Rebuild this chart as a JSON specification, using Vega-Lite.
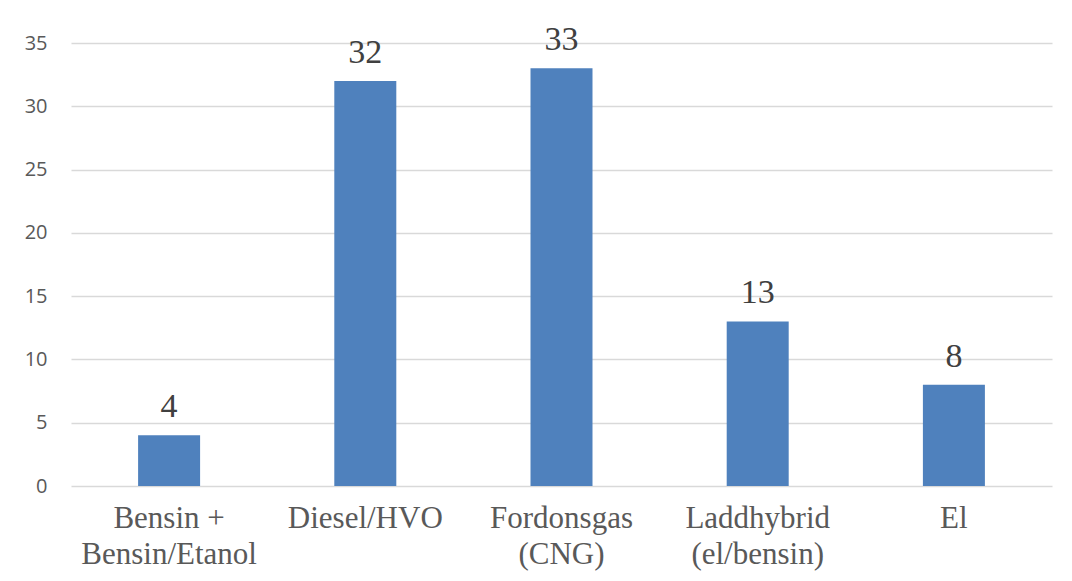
{
  "$schema": "https://vega.github.io/schema/vega-lite/v6.json",
  "width": 981,
  "height": 443,
  "autosize": {"type": "none"},
  "padding": {"left": 71, "top": 43, "right": 20, "bottom": 95},
  "background": "white",
  "data": {
    "values": [
      {"kategori": "Bensin +|Bensin/Etanol", "antal": 4},
      {"kategori": "Diesel/HVO", "antal": 32},
      {"kategori": "Fordonsgas|(CNG)", "antal": 33},
      {"kategori": "Laddhybrid|(el/bensin)", "antal": 13},
      {"kategori": "El", "antal": 8}
    ]
  },
  "encoding": {
    "x": {
      "field": "kategori",
      "type": "nominal",
      "sort": null,
      "scale": {"paddingInner": 0.684, "paddingOuter": 0.342},
      "axis": {
        "title": null,
        "labelAngle": 0,
        "labelExpr": "split(datum.label, '|')",
        "labelFont": "Liberation Serif",
        "labelFontSize": 31,
        "labelColor": "#595959",
        "labelLineHeight": 36,
        "labelPadding": 17,
        "labelBaseline": "top",
        "ticks": false,
        "domain": false,
        "grid": false
      }
    },
    "y": {
      "field": "antal",
      "type": "quantitative",
      "scale": {"domain": [0, 35], "nice": false},
      "axis": {
        "title": null,
        "values": [0, 5, 10, 15, 20, 25, 30, 35],
        "labelFont": "Open Sans",
        "labelFontSize": 20,
        "labelColor": "#595959",
        "labelPadding": 24,
        "ticks": false,
        "domain": false,
        "grid": true,
        "gridColor": "#d9d9d9",
        "gridWidth": 1.5
      }
    }
  },
  "layer": [
    {"mark": {"type": "bar", "color": "#4f81bd"}},
    {
      "mark": {
        "type": "text",
        "font": "Liberation Serif",
        "fontSize": 34,
        "color": "#404040",
        "baseline": "alphabetic",
        "dy": -18
      },
      "encoding": {"text": {"field": "antal", "type": "quantitative"}}
    }
  ],
  "config": {"view": {"stroke": null}}
}
